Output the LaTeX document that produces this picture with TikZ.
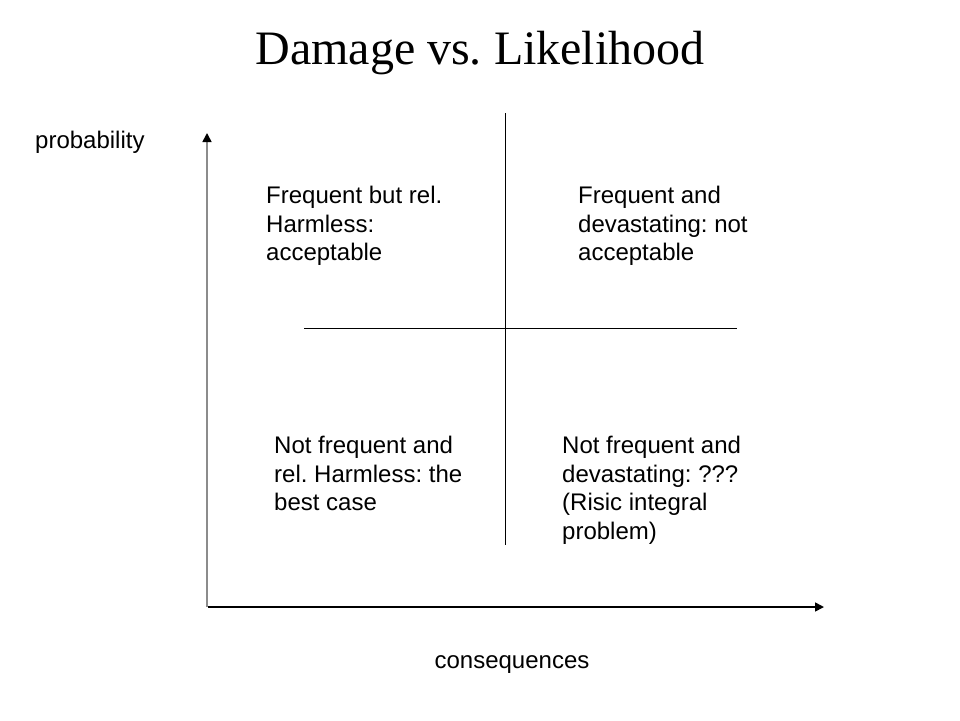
\documentclass[tikz,border=0pt]{standalone}
\usepackage{fontspec}
\setmainfont{Liberation Sans}
\newfontfamily\titlefont{Liberation Serif}
\usetikzlibrary{arrows.meta}
\frenchspacing
\tikzset{
  quadtext/.style={anchor=north west, inner sep=0pt, align=left, font=\fontsize{24}{28.5}\selectfont},
  axislabel/.style={anchor=base west, inner sep=0pt, font=\fontsize{24}{28.5}\selectfont},
  divider/.style={line width=1pt, black},
  axisarrow/.style={-{Triangle[length=9pt,width=9pt,color=black]}, line width=1.6pt},
}
\begin{document}
\begin{tikzpicture}[x=1pt,y=-1pt]
\useasboundingbox[fill=white] (0,0) rectangle (960,720);
\node[inner sep=0pt, anchor=base, font=\titlefont\fontsize{48}{56}\selectfont] (title) at (480,64) {\frenchspacing Damage vs. Likelihood};
% axes
\coordinate (origin) at (207,607);
\coordinate (ytip) at (207,133);
\coordinate (xtip) at (824,607);
\draw[axisarrow, gray!90] (origin) -- (ytip);
\draw[axisarrow, black] ([xshift=0.8pt]origin) -- (xtip);
% dividers
\coordinate (vtop) at (505,113);
\coordinate (vbot) at (505,545);
\coordinate (hleft) at (304,328);
\coordinate (hright) at (737,328);
\draw[divider] (vtop) -- (vbot);
\draw[divider] (hleft) -- (hright);
% labels
\node[axislabel] (ylab) at (35,148) {probability};
\node[anchor=base, inner sep=0pt, font=\fontsize{24}{28.5}\selectfont] (xlab) at (512,668) {consequences};
% quadrants
\node[quadtext] (tl) at (266,186) {\frenchspacing Frequent but rel.\\Harmless:\\acceptable};
\node[quadtext] (tr) at (578,186) {\frenchspacing Frequent and\\devastating: not\\acceptable};
\node[quadtext] (bl) at (274,436) {\frenchspacing Not frequent and\\rel. Harmless: the\\best case};
\node[quadtext] (br) at (562,436) {\frenchspacing Not frequent and\\devastating: ???\\(Risic integral\\problem)};
\end{tikzpicture}
\end{document}
